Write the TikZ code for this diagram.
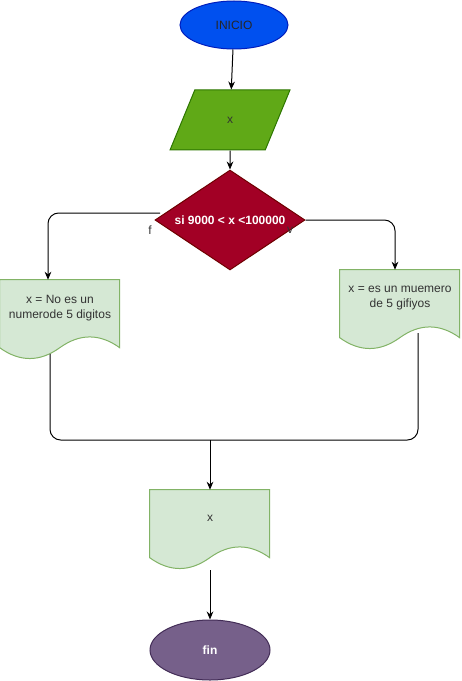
\documentclass[tikz,border=0pt]{standalone}
\usepackage{fontspec}
\setmainfont{Liberation Sans}
\usetikzlibrary{shapes.geometric,arrows.meta,backgrounds}

\definecolor{inicioblue}{HTML}{0050EF}
\definecolor{inicioline}{HTML}{001DBC}
\definecolor{inputgreen}{HTML}{60A917}
\definecolor{inputline}{HTML}{2D7600}
\definecolor{condred}{HTML}{A20025}
\definecolor{condline}{HTML}{6F0000}
\definecolor{docgreen}{HTML}{D5E8D4}
\definecolor{docline}{HTML}{82B366}
\definecolor{finpurple}{HTML}{76608A}
\definecolor{finline}{HTML}{432D57}
\definecolor{txtgray}{HTML}{333333}

% wavy document outline below a doc node
\newcommand{\docpath}[1]{%
  \filldraw[fill=docgreen, draw=docline, line width=0.75pt, shift={(#1.north west)}]
    (0,0) -- (120,0) -- (120,68) .. controls (100,53.6) and (80,53.6) .. (60,68)
    .. controls (40,82.4) and (20,82.4) .. (0,68) -- cycle;}

\tikzset{
  txt/.style={font=\fontsize{9}{11.25}\selectfont},
  startend/.style={ellipse, txt, inner sep=0pt, line width=0.75pt},
  docbox/.style={txt, text=txtgray, minimum width=90pt, minimum height=42pt, inner sep=0pt, align=center},
  flowline/.style={line width=0.75pt, black},
  flowarrow/.style={flowline, -{Stealth[length=6pt,width=5pt]}},
  lbl/.style={txt, text=txtgray}
}

\begin{document}
\begin{tikzpicture}[x=0.75pt, y=-0.75pt]
    \useasboundingbox (0,0) rectangle (461,681);

    % draw nodes
    \node[startend, fill=inicioblue, draw=inicioline, minimum width=81pt, minimum height=36pt, text=black!85] (inicio) at (234,25) {INICIO};
    \node[trapezium, trapezium left angle=71.6, trapezium right angle=108.4, trapezium stretches=true,
          fill=inputgreen, draw=inputline, line width=0.75pt, minimum width=90pt, minimum height=45pt,
          inner sep=0pt, txt, text=txtgray] (inputx) at (230,120) {x};
    \node[diamond, aspect=1.5, fill=condred, draw=condline, line width=0.75pt, minimum width=112.5pt, minimum height=75pt,
          inner sep=0pt, text=white, font=\fontsize{9}{11.25}\selectfont\bfseries] (cond) at (230,220) {si 9000 < x <100000};
    \node[docbox] (nodoc) at (60,308) {x = No es un\\numerode 5 digitos};
    \node[docbox] (yesdoc) at (400,298) {x = es un muemero\\de 5 gifiyos};
    \node[docbox] (outdoc) at (210,518) {x};
    \node[startend, fill=finpurple, draw=finline, minimum width=90pt, minimum height=45pt,
          text=white, font=\fontsize{9}{11.25}\selectfont\bfseries] (fin) at (210,650) {fin};

    % draw documents
    \begin{scope}[on background layer]
      \docpath{nodoc}
      \docpath{yesdoc}
      \docpath{outdoc}
    \end{scope}

    % draw connectors
    \coordinate (fstart) at (160,213);
    \coordinate (nobot) at (50,354);
    \coordinate (yesbot) at (418,333);
    \coordinate (merge) at (210,440);
    \coordinate (outbot) at (210,570);
    \draw[flowarrow] (inicio) -- (inputx);
    \draw[flowarrow] (inputx) -- (cond);
    \draw[flowarrow, rounded corners=8pt] (fstart) -| ([xshift=-9pt]nodoc.north);
    \draw[flowarrow, rounded corners=8pt] (cond.east) -| ([xshift=-3.75pt]yesdoc.north);
    \draw[flowline, rounded corners=8pt] (nobot) |- (merge) -| (yesbot);
    \draw[flowarrow] (merge) -- (outdoc.north);
    \draw[flowarrow] (outbot) -- (fin);

    % draw labels
    \node[lbl] (flabel) at (150,230) {f};
    \node[lbl] (vlabel) at (290,230) {v};
\end{tikzpicture}
\end{document}
